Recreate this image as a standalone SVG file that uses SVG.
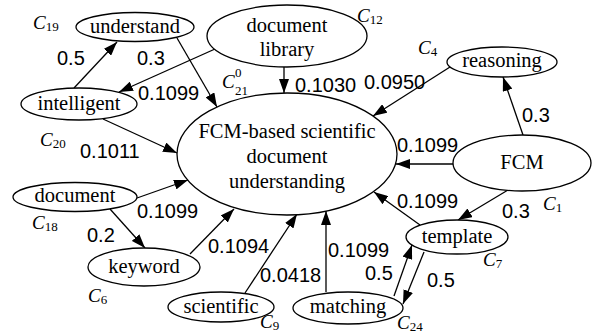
<svg xmlns="http://www.w3.org/2000/svg" width="597" height="334" viewBox="0 0 597 334">
<style>
.n ellipse{fill:#fff;stroke:#000;stroke-width:1.3}
.n text{font-family:"Liberation Serif","Times New Roman",serif;font-size:20.5px;text-anchor:middle;fill:#000}
.e line{stroke:#000;stroke-width:1.3;marker-end:url(#ah)}
.w{font-family:"Liberation Sans",Arial,sans-serif;font-size:20px;fill:#000}
.c{font-family:"Liberation Serif","Times New Roman",serif;font-size:19px;font-style:italic;fill:#000}
.s{font-size:13px;font-style:normal}
</style>
<defs>
<marker id="ah" markerUnits="userSpaceOnUse" markerWidth="14" markerHeight="10" refX="14" refY="5" orient="auto">
<path d="M0,0 L14,5 L0,10 z" fill="#000"/>
</marker>
</defs>
<g id="edges" class="e">
<line x1="74" y1="88" x2="117" y2="42"/>
<line x1="215" y1="49" x2="119" y2="92"/>
<line x1="177" y1="38" x2="217" y2="107"/>
<line x1="284" y1="67" x2="284" y2="93"/>
<line x1="450" y1="67" x2="373" y2="116"/>
<line x1="523" y1="135" x2="503" y2="77"/>
<line x1="453" y1="164" x2="396" y2="164"/>
<line x1="508" y1="190" x2="458" y2="220"/>
<line x1="420" y1="225" x2="374" y2="192"/>
<line x1="103" y1="119" x2="177" y2="153"/>
<line x1="137" y1="198" x2="188" y2="180"/>
<line x1="110" y1="209" x2="145" y2="248"/>
<line x1="190" y1="254" x2="234" y2="209"/>
<line x1="245" y1="293" x2="297" y2="214"/>
<line x1="326" y1="292" x2="326" y2="211"/>
<line x1="394" y1="296" x2="412" y2="245"/>
<line x1="424" y1="252" x2="403" y2="304"/>
</g>
<g id="center" class="n"><ellipse cx="287" cy="154" rx="110" ry="61"/><text x="287" y="138">FCM-based scientific</text><text x="287" y="163">document</text><text x="287" y="188">understanding</text></g>
<g id="understand" class="n"><ellipse cx="135" cy="27" rx="59" ry="14.5"/><text x="135" y="33">understand</text></g>
<g id="library" class="n"><ellipse cx="287" cy="36" rx="80" ry="31"/><text x="287" y="32">document</text><text x="287" y="56">library</text></g>
<g id="intelligent" class="n"><ellipse cx="79" cy="104" rx="58" ry="16"/><text x="79" y="110">intelligent</text></g>
<g id="reasoning" class="n"><ellipse cx="502" cy="62" rx="55" ry="15"/><text x="502" y="67">reasoning</text></g>
<g id="fcm" class="n"><ellipse cx="522" cy="163" rx="69" ry="28"/><text x="522" y="169">FCM</text></g>
<g id="document" class="n"><ellipse cx="75" cy="197" rx="62" ry="14.5"/><text x="75" y="202">document</text></g>
<g id="keyword" class="n"><ellipse cx="144" cy="267" rx="56" ry="19"/><text x="144" y="273">keyword</text></g>
<g id="scientific" class="n"><ellipse cx="221" cy="307" rx="53" ry="15"/><text x="221" y="313">scientific</text></g>
<g id="matching" class="n"><ellipse cx="348" cy="308" rx="55" ry="16"/><text x="348" y="313">matching</text></g>
<g id="template" class="n"><ellipse cx="457" cy="237" rx="51" ry="17"/><text x="457" y="243">template</text></g>
<g id="weights">
<text class="w" x="57" y="65">0.5</text>
<text class="w" x="137" y="65">0.3</text>
<text class="w" x="138" y="100">0.1099</text>
<text class="w" x="295" y="92">0.1030</text>
<text class="w" x="364" y="89">0.0950</text>
<text class="w" x="522" y="122">0.3</text>
<text class="w" x="397" y="152">0.1099</text>
<text class="w" x="80" y="158">0.1011</text>
<text class="w" x="137" y="218">0.1099</text>
<text class="w" x="87" y="242">0.2</text>
<text class="w" x="208" y="253">0.1094</text>
<text class="w" x="260" y="282">0.0418</text>
<text class="w" x="328" y="257">0.1099</text>
<text class="w" x="365" y="280">0.5</text>
<text class="w" x="427" y="287">0.5</text>
<text class="w" x="397" y="208">0.1099</text>
<text class="w" x="502" y="218">0.3</text>
</g>
<g id="labels">
<text class="c" x="33" y="29">C<tspan class="s" dy="2">19</tspan></text>
<text class="c" x="357" y="22">C<tspan class="s" dy="2">12</tspan></text>
<text class="c" x="222" y="88">C</text>
<text class="c" x="235" y="77"><tspan class="s">0</tspan></text>
<text class="c" x="235" y="95"><tspan class="s">21</tspan></text>
<text class="c" x="418" y="54">C<tspan class="s" dy="2">4</tspan></text>
<text class="c" x="40" y="146">C<tspan class="s" dy="2">20</tspan></text>
<text class="c" x="543" y="210">C<tspan class="s" dy="2">1</tspan></text>
<text class="c" x="32" y="229">C<tspan class="s" dy="2">18</tspan></text>
<text class="c" x="483" y="266">C<tspan class="s" dy="2">7</tspan></text>
<text class="c" x="88" y="302">C<tspan class="s" dy="2">6</tspan></text>
<text class="c" x="260" y="328">C<tspan class="s" dy="2">9</tspan></text>
<text class="c" x="397" y="329">C<tspan class="s" dy="2">24</tspan></text>
</g>
</svg>
